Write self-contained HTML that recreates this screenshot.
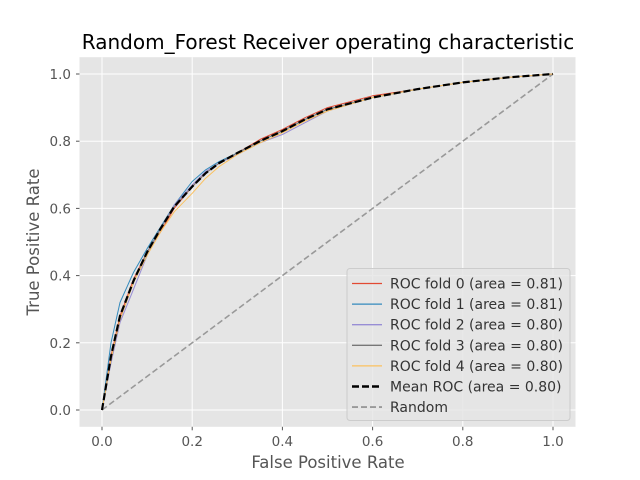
<!DOCTYPE html>
<html><head><meta charset="utf-8"><style>
body{margin:0;background:#fff;}
svg{display:block;font-family:"DejaVu Sans","Liberation Sans",sans-serif;}
</style></head><body>
<svg id="chart" width="640" height="480" viewBox="0 0 640 480" xmlns="http://www.w3.org/2000/svg">
<rect width="640" height="480" fill="#fff"/>
<rect x="79.5" y="57.2" width="496" height="369.6" fill="#E5E5E5"/>
<g id="grid"></g>
<g id="ticks"></g>
<g id="series"></g>
<text x="328" y="49" text-anchor="middle" font-size="20" fill="#000">Random_Forest Receiver operating characteristic</text>
<text x="328" y="468" text-anchor="middle" font-size="16.5" fill="#555">False Positive Rate</text>
<text transform="translate(39,242) rotate(-90)" text-anchor="middle" font-size="16.5" fill="#555">True Positive Rate</text>
<g id="legend"></g>
</svg>
<script>
const xTicks=[0,0.2,0.4,0.6,0.8,1.0];
const yTicks=[0,0.2,0.4,0.6,0.8,1.0];
const fprGrid=[0,0.02,0.04,0.07,0.1,0.13,0.16,0.2,0.23,0.26,0.3,0.35,0.4,0.45,0.5,0.6,0.7,0.8,0.9,1.0];
const fold0=[0,0.16,0.28,0.39,0.47,0.53,0.6,0.665,0.705,0.735,0.765,0.805,0.835,0.87,0.9,0.935,0.955,0.975,0.99,1.0];
const fold1=[0,0.2,0.32,0.41,0.48,0.545,0.61,0.68,0.715,0.74,0.765,0.8,0.83,0.865,0.895,0.93,0.955,0.975,0.99,1.0];
const fold2=[0,0.14,0.26,0.36,0.46,0.54,0.61,0.67,0.71,0.735,0.76,0.795,0.82,0.855,0.89,0.93,0.955,0.975,0.99,1.0];
const fold3=[0,0.15,0.27,0.38,0.47,0.54,0.605,0.665,0.705,0.735,0.765,0.8,0.83,0.865,0.895,0.93,0.955,0.975,0.99,1.0];
const fold4=[0,0.15,0.27,0.38,0.46,0.53,0.59,0.645,0.69,0.725,0.76,0.795,0.825,0.86,0.89,0.93,0.955,0.975,0.99,1.0];
const meanRoc=[0,0.16,0.28,0.385,0.47,0.54,0.605,0.665,0.705,0.735,0.765,0.8,0.83,0.865,0.895,0.93,0.955,0.975,0.99,1.0];
const foldNames=["ROC fold 0 (area = 0.81)","ROC fold 1 (area = 0.81)","ROC fold 2 (area = 0.80)","ROC fold 3 (area = 0.80)","ROC fold 4 (area = 0.80)","Mean ROC (area = 0.80)","Random"];
const NS="http://www.w3.org/2000/svg";
const X=v=>102+v*451, Y=v=>410-v*336;
function mk(tag,attrs,parent){const e=document.createElementNS(NS,tag);for(const k in attrs)e.setAttribute(k,attrs[k]);parent.appendChild(e);return e;}
const grid=document.getElementById('grid'),ticks=document.getElementById('ticks'),ser=document.getElementById('series'),leg=document.getElementById('legend');
xTicks.forEach(t=>{
 const l=mk('line',{x1:X(t),x2:X(t),y1:57.2,y2:426.8,stroke:'#fff','stroke-width':1},grid);
 
 mk('line',{x1:X(t),x2:X(t),y1:426.8,y2:430.3,stroke:'#555'},ticks);
 const tx=mk('text',{x:X(t),y:446,'text-anchor':'middle','font-size':13.5,fill:'#555'},ticks);
 tx.textContent=t.toFixed(1);
 
});
yTicks.forEach(t=>{
 const l=mk('line',{x1:79.5,x2:575.5,y1:Y(t),y2:Y(t),stroke:'#fff','stroke-width':1},grid);
 
 mk('line',{x1:76,x2:79.5,y1:Y(t),y2:Y(t),stroke:'#555'},ticks);
 const tx=mk('text',{x:71,y:Y(t)+5,'text-anchor':'end','font-size':13.5,fill:'#555'},ticks);
 tx.textContent=t.toFixed(1);
 
});
const styles=[
 {c:'#E24A33',w:1,d:''},{c:'#348ABD',w:1,d:''},{c:'#988ED5',w:1,d:''},{c:'#777777',w:1,d:''},{c:'#FBC15E',w:1,d:''},
 {c:'#000',w:2.2,d:'7,3'},{c:'#999',w:1.6,d:'6,3'}];
const seriesData=[fold0,fold1,fold2,fold3,fold4,meanRoc];
const names=['roc-fold-0','roc-fold-1','roc-fold-2','roc-fold-3','roc-fold-4','mean-roc','random-line'];
const rp=mk('line',{x1:X(0),y1:Y(0),x2:X(1),y2:Y(1),stroke:styles[6].c,'stroke-width':styles[6].w,'stroke-dasharray':styles[6].d},ser);

seriesData.forEach((d,i)=>{
 const pts=d.map((v,j)=>X(fprGrid[j]).toFixed(1)+','+Y(v).toFixed(1)).join(' ');
 const p=mk('polyline',{points:pts,fill:'none',stroke:styles[i].c,'stroke-width':styles[i].w,'stroke-dasharray':styles[i].d,'stroke-linejoin':'round'},ser);
 
 
});
mk('rect',{x:347,y:268.5,width:223,height:152,rx:3,fill:'#E5E5E5',stroke:'#ccc','stroke-width':1,'fill-opacity':0.8},leg);
foldNames.forEach((n,i)=>{
 const y=283.5+i*20.6;
 const g=mk('g',{},leg);
 
 
 mk('line',{x1:352,x2:382,y1:y,y2:y,stroke:styles[i].c,'stroke-width':styles[i].w+0.3,'stroke-dasharray':styles[i].d},g);
 const t=mk('text',{x:390,y:y+5,'font-size':14,fill:'#333'},g);
 t.textContent=n;
});
</script>
</body></html>
